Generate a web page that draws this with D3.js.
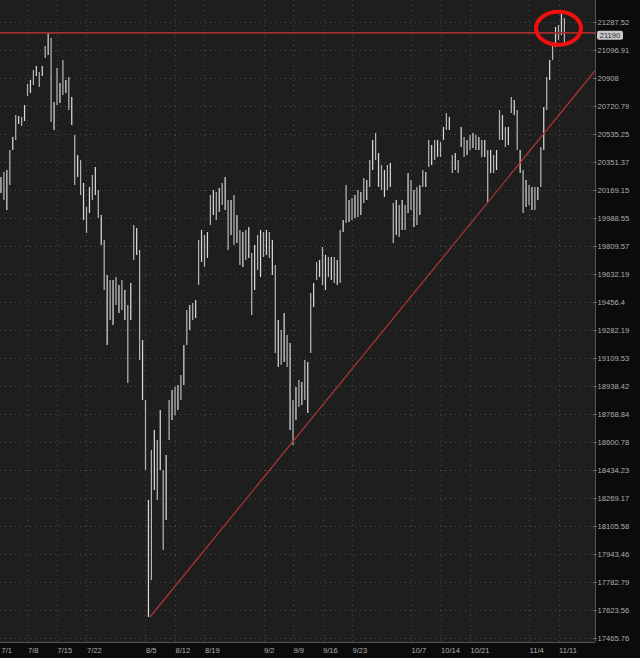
<!DOCTYPE html>
<html><head><meta charset="utf-8">
<script src="https://cdn.jsdelivr.net/npm/d3@7"></script>
<style>html,body{margin:0;padding:0;background:#0b0b0b;}svg{display:block;}</style>
</head><body><svg id="c" width="640" height="658"></svg>
<script>
// ---- data ----
const barsPerDay = 2;
const highs = [
20254,20286,20299,20430,20516,20661,20655,20648,20727,20868,
20895,20962,20989,20948,20989,21124,21213,21179,20747,20975,
20875,21029,20895,20915,20781,20529,20397,20364,20215,20060,
20189,20267,20319,20169,20008,19848,19626,19595,19595,19613,
19563,19595,19532,19438,19576,19944,19925,19784,19220,18854,
18258,18553,18673,18613,18793,18434,18523,18854,18914,18932,
18945,19006,19190,19407,19438,19450,19469,19848,19912,19880,
19899,20137,20169,20156,20182,20215,20254,20105,20105,20137,
20008,19912,19899,19912,19931,19765,19816,19880,19912,19899,
19912,19899,19848,19689,19344,19282,19388,19251,19202,18854,
18932,18975,18963,19097,19085,19513,19576,19708,19721,19803,
19753,19740,19740,19740,19721,19912,19976,20202,20105,20118,
20137,20169,20156,20247,20234,20364,20496,20542,20410,20332,
20299,20332,20345,20085,20105,20072,20105,20072,20280,20234,
20169,20189,20202,20299,20286,20496,20463,20496,20496,20483,
20582,20674,20648,20397,20410,20364,20582,20516,20496,20529,
20542,20529,20516,20496,20496,20430,20430,20397,20430,20694,
20661,20582,20582,20781,20761,20694,20430,20299,20234,20202,
20189,20189,20189,20450,20714,20915,21029,21131,21253,21267,
21342,21315];
const lows = [
20150,20105,20040,20202,20430,20496,20601,20588,20621,20788,
20808,20861,20921,20848,20921,21043,21063,20615,20562,20727,
20741,20794,20808,20694,20595,20202,20254,20137,19976,19893,
20021,20105,20137,19989,19816,19532,19190,19344,19313,19438,
19388,19407,19344,18957,19344,19721,19753,19097,18854,18434,
17584,17794,18316,18258,18434,17967,18141,18613,18733,18763,
18793,18854,18945,19190,19282,19344,19357,19563,19708,19677,
19734,19944,20008,19976,20027,20072,20040,19784,19880,19816,
19829,19689,19677,19721,19734,19376,19532,19658,19613,19740,
19753,19734,19626,19140,19055,19067,19085,19055,18673,18583,
18733,18811,18823,18854,18775,19140,19425,19595,19613,19563,
19532,19613,19595,19576,19563,19576,19899,19957,19963,19976,
19989,19995,20008,20085,20105,20189,20299,20364,20189,20169,
20124,20169,20189,19829,19880,19867,19912,19912,20021,20040,
19931,19944,20008,20189,20189,20319,20332,20364,20384,20384,
20496,20562,20562,20280,20299,20280,20450,20384,20397,20430,
20443,20430,20430,20384,20384,20092,20280,20280,20299,20496,
20496,20450,20463,20674,20661,20430,20280,20021,20060,20072,
20040,20040,20105,20189,20430,20694,20895,21029,21117,21165,
21199,21151];

const yTickValues = [21287.52,21096.91,20908,20720.79,20535.25,20351.37,20169.15,19988.55,
  19809.57,19632.19,19456.4,19282.19,19109.53,18938.42,18768.84,18600.78,18434.23,18269.17,
  18105.58,17943.46,17782.79,17623.56,17465.76];
const xTickLabels = ["7/1","7/8","7/15","7/22","8/5","8/12","8/19","9/2","9/9","9/16","9/23","10/7","10/14","10/21","11/4","11/11"];
const xTickDays   = [0,5,10,15,25,30,35,45,50,55,60,70,75,80,90,95];

const resistancePrice = 21213;
const trendDays = [25.76, 101.19];
const trendPrices = [17584, 20957];
const lastPrice = 21190;
const circleDay = 95.0, circlePrice = 21245;

// ---- layout ----
const W = 640, H = 658, plotR = 595, plotB = 642;
const svg = d3.select("#c");
const x = d3.scaleLinear().domain([0, 95]).range([-2, -2 + 5.9 * 95]);
const y = d3.scaleLog().domain([17465.76, 21287.52]).range([638, 22]);

svg.append("rect").attr("width", W).attr("height", H).attr("fill", "#0b0b0b");
svg.append("rect").attr("width", plotR).attr("height", plotB).attr("fill", "#1e1e1e");

svg.append("defs").append("clipPath").attr("id", "pc")
  .append("rect").attr("width", plotR).attr("height", plotB);

const grid = svg.append("g").attr("stroke", "#4a4a4a").attr("stroke-dasharray", "1,4").attr("stroke-width", 1);
grid.selectAll("line.h").data(yTickValues).join("line")
  .attr("x1", 0).attr("x2", plotR)
  .attr("y1", d => Math.round(y(d)) + 0.5).attr("y2", d => Math.round(y(d)) + 0.5);
grid.selectAll("line.v").data(xTickDays).join("line")
  .attr("y1", 0).attr("y2", plotB)
  .attr("x1", d => Math.round(x(d)) + 0.5).attr("x2", d => Math.round(x(d)) + 0.5);

// bars
const bars = highs.map((h, i) => ({day: (i + 1) / barsPerDay, hi: h, lo: lows[i]}));
const plot = svg.append("g").attr("clip-path", "url(#pc)");
plot.selectAll("line.bar").data(bars).join("line")
  .attr("class", "bar")
  .attr("x1", d => x(d.day)).attr("x2", d => x(d.day))
  .attr("y1", d => y(d.hi)).attr("y2", d => y(d.lo))
  .attr("stroke", (d, i) => i % 2 ? "#b4b4b4" : "#d8d8d8")
  .attr("stroke-width", 1.25);

// resistance line
plot.append("line").attr("x1", 0).attr("x2", plotR)
  .attr("y1", y(resistancePrice)).attr("y2", y(resistancePrice))
  .attr("stroke", "#a32e2e").attr("stroke-width", 1.8);

// trend line
plot.append("line")
  .attr("x1", x(trendDays[0])).attr("y1", y(trendPrices[0]))
  .attr("x2", x(trendDays[1])).attr("y2", y(trendPrices[1]))
  .attr("stroke", "#b03535").attr("stroke-width", 1.2);

// highlight ellipse
svg.append("ellipse").attr("cx", x(circleDay)).attr("cy", y(circlePrice))
  .attr("rx", 22.5).attr("ry", 16.5).attr("fill", "none")
  .attr("stroke", "#f01010").attr("stroke-width", 4);

// axes lines
svg.append("line").attr("x1", plotR + 0.5).attr("x2", plotR + 0.5).attr("y1", 0).attr("y2", plotB)
  .attr("stroke", "#555");
svg.append("line").attr("x1", 0).attr("x2", plotR).attr("y1", plotB + 0.5).attr("y2", plotB + 0.5)
  .attr("stroke", "#555");

const font = "'Liberation Sans', Arial, sans-serif";
// y labels
const yl = svg.append("g");
yl.selectAll("line").data(yTickValues).join("line")
  .attr("x1", plotR - 2).attr("x2", plotR + 2)
  .attr("y1", d => Math.round(y(d)) + 0.5).attr("y2", d => Math.round(y(d)) + 0.5)
  .attr("stroke", "#666");
yl.selectAll("text").data(yTickValues).join("text")
  .attr("x", plotR + 2.5).attr("y", d => y(d)).attr("dy", "0.35em")
  .attr("font-family", font).attr("font-size", 7.6).attr("fill", "#b0b0b0")
  .text(d => String(d));

// x labels
svg.append("g").selectAll("text").data(xTickLabels).join("text")
  .attr("x", (d, i) => Math.max(1.5, x(xTickDays[i]) + 0.5)).attr("y", 653)
  .attr("font-family", font).attr("font-size", 7.6).attr("fill", "#b0b0b0")
  .text(d => d);

// last price label
const ly = y(lastPrice) - 1;
svg.append("rect").attr("x", 597).attr("y", ly - 4.5).attr("width", 26).attr("height", 9)
  .attr("rx", 2).attr("fill", "#c9c9c9");
svg.append("text").attr("x", 610).attr("y", ly).attr("dy", "0.35em").attr("text-anchor", "middle")
  .attr("font-family", font).attr("font-size", 7.6).attr("fill", "#2a2a2a").text(String(lastPrice));
</script></body></html>
